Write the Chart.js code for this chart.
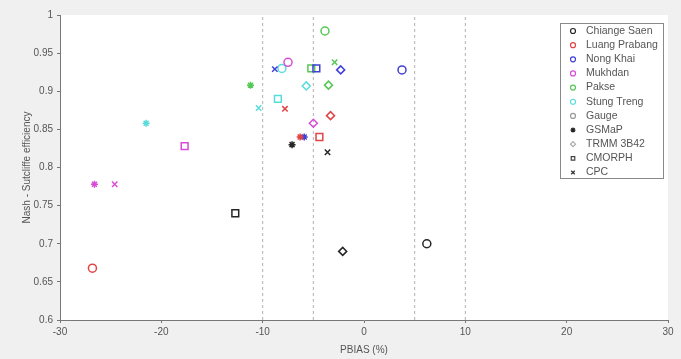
<!DOCTYPE html>
<html>
<head>
<meta charset="utf-8">
<script src="https://cdn.jsdelivr.net/npm/chart.js@4.4.0/dist/chart.umd.min.js"></script>
<style>
  html, body { margin: 0; padding: 0; background: #f0f0f0; }
  #wrap { width: 681px; height: 359px; }
</style>
</head>
<body>
<div id="wrap"><canvas id="myChart" width="681" height="359"></canvas></div>
<script>
// stations (colour) and products (marker)
var stations = ['Chiange Saen', 'Luang Prabang', 'Nong Khai', 'Mukhdan', 'Pakse', 'Stung Treng'];
var stationColors = ['#262626', '#e04444', '#4040d8', '#d84cd8', '#55c855', '#5adcdc'];
var products = ['Gauge', 'GSMaP', 'TRMM 3B42', 'CMORPH', 'CPC'];
var productStyles = ['circle', 'star', 'rectRot', 'rect', 'crossRot'];
var productSizes = [4, 3.5, 4, 4.8, 3.8];
var productLegendColors = ['#999999', '#222222', '#aaaaaa', '#444444', '#333333'];

// PBIAS (%) per station, in product order
var pbiasChiangSaen = [6.2, -7.1, -2.1, -12.7, -3.6];
var pbiasLuangPrabang = [-26.8, -6.3, -3.3, -4.4, -7.8];
var pbiasNongKhai = [3.75, -5.9, -2.3, -4.7, -8.8];
var pbiasMukhdan = [-7.5, -26.6, -5.0, -17.7, -24.6];
var pbiasPakse = [-3.85, -11.2, -3.5, -5.2, -2.9];
var pbiasStungTreng = [-8.1, -21.5, -5.7, -8.5, -10.4];

// Nash-Sutcliffe efficiency per station, in product order
var nseChiangSaen = [0.70, 0.83, 0.69, 0.74, 0.82];
var nseLuangPrabang = [0.668, 0.84, 0.868, 0.84, 0.877];
var nseNongKhai = [0.928, 0.84, 0.928, 0.93, 0.929];
var nseMukhdan = [0.938, 0.778, 0.858, 0.828, 0.778];
var nsePakse = [0.979, 0.908, 0.908, 0.93, 0.938];
var nseStungTreng = [0.93, 0.858, 0.907, 0.89, 0.878];

var pbiasAll = [pbiasChiangSaen, pbiasLuangPrabang, pbiasNongKhai, pbiasMukhdan, pbiasPakse, pbiasStungTreng];
var nseAll = [nseChiangSaen, nseLuangPrabang, nseNongKhai, nseMukhdan, nsePakse, nseStungTreng];

// dashed reference lines
var refLines = [-10, -5, 5, 10];
var xMin = -30, xMax = 30, xStep = 10;
var yMin = 0.6, yMax = 1, yStep = 0.05;

var datasets = [];
for (var s = 0; s < stations.length; s++) {
    var pts = [];
    for (var p = 0; p < products.length; p++) {
        pts.push({ x: pbiasAll[s][p], y: nseAll[s][p] });
    }
    datasets.push({
        type: 'scatter',
        label: stations[s],
        data: pts,
        pointStyle: productStyles,
        pointRadius: productSizes,
        pointBorderWidth: 1.5,
        borderColor: stationColors[s],
        backgroundColor: 'rgba(0,0,0,0)'
    });
}
refLines.forEach(function (v) {
    datasets.push({
        type: 'line',
        label: 'ref',
        data: [{ x: v, y: yMin }, { x: v, y: yMax }],
        borderColor: '#b0b0b0',
        borderWidth: 1,
        borderDash: [3, 3],
        pointRadius: 0,
        order: 10
    });
});

var bgPlugin = {
    id: 'bg',
    beforeDraw: function (chart) {
        var c = chart.ctx, a = chart.chartArea;
        c.save();
        c.fillStyle = '#f0f0f0';
        c.fillRect(0, 0, chart.width, chart.height);
        c.fillStyle = '#ffffff';
        c.fillRect(a.left, a.top, a.right - a.left, a.bottom - a.top);
        c.restore();
    }
};

var legendPlugin = {
    id: 'boxLegend',
    afterDraw: function (chart) {
        var c = chart.ctx;
        var labels = stations.concat(products);
        var bx = 560, by = 23, bw = 103, bh = 155, step = 14.15;
        c.save();
        c.fillStyle = '#ffffff';
        c.fillRect(bx, by, bw, bh);
        c.strokeStyle = '#8a8a8a';
        c.lineWidth = 1;
        c.strokeRect(bx + 0.5, by + 0.5, bw, bh);
        c.beginPath();
        c.rect(bx, by, bw + 1, bh);
        c.clip();
        c.font = '10.5px "Liberation Sans", Arial, sans-serif';
        c.textBaseline = 'middle';
        labels.forEach(function (txt, i) {
            var y = by + 8 + i * step;
            var style, col;
            if (i < stations.length) { style = 'circle'; col = stationColors[i]; }
            else { style = productStyles[i - stations.length]; col = productLegendColors[i - stations.length]; }
            c.strokeStyle = col;
            c.fillStyle = 'rgba(0,0,0,0)';
            c.lineWidth = 1.2;
            Chart.helpers.drawPoint(c, { pointStyle: style, radius: 2.5, borderWidth: 1.2 }, 573, y);
            c.fillStyle = '#555555';
            c.fillText(txt, 586, y);
        });
        c.restore();
    }
};

var ctx = document.getElementById('myChart').getContext('2d');
var myChart = new Chart(ctx, {
    type: 'scatter',
    data: { datasets: datasets },
    options: {
        responsive: false,
        animation: false,
        layout: { padding: { left: 0, right: 13, top: 15, bottom: 0 } },
        plugins: { legend: { display: false }, tooltip: { enabled: false } },
        scales: {
            x: {
                type: 'linear', min: xMin, max: xMax,
                ticks: { stepSize: xStep, padding: 3, color: '#555', font: { size: 10, family: '"Liberation Sans", Arial' } },
                grid: { drawOnChartArea: false, tickLength: 3, color: '#777' },
                border: { color: '#777' },
                title: { display: true, text: 'PBIAS (%)', color: '#555', padding: { top: 0, bottom: 3 }, font: { size: 10, family: '"Liberation Sans", Arial' } },
                afterFit: function (scale) { scale.height = 39; }
            },
            y: {
                type: 'linear', min: yMin, max: yMax,
                ticks: {
                    stepSize: yStep, padding: 4, color: '#555', font: { size: 10, family: '"Liberation Sans", Arial' },
                    callback: function (v) { return String(Number(v.toFixed(2))); }
                },
                grid: { drawOnChartArea: false, tickLength: 3, color: '#777' },
                border: { color: '#777' },
                title: { display: true, text: 'Nash - Sutcliffe efficiency', color: '#555', padding: { top: 21, bottom: 0 }, font: { size: 10, family: '"Liberation Sans", Arial' } },
                afterFit: function (scale) { scale.width = 60; }
            }
        }
    },
    plugins: [bgPlugin, legendPlugin]
});
</script>
</body>
</html>
